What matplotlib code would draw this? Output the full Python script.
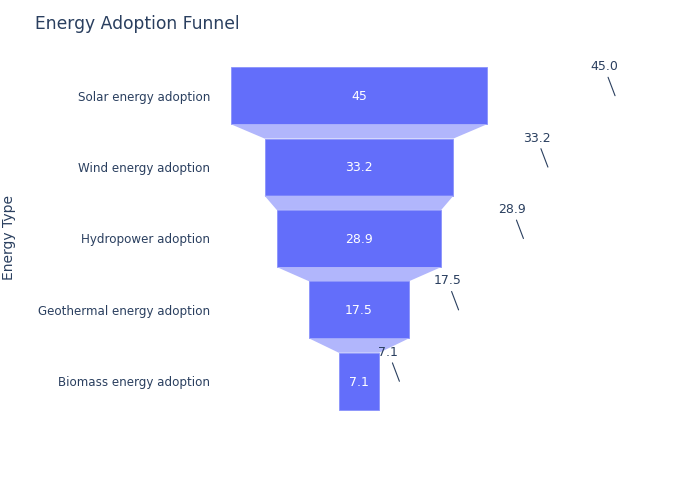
import matplotlib.pyplot as plt
from matplotlib.patches import Polygon

stages = ['Solar energy adoption', 'Wind energy adoption', 'Hydropower adoption',
          'Geothermal energy adoption', 'Biomass energy adoption']
values = [45, 33.2, 28.9, 17.5, 7.1]
bar_labels = ['45', '33.2', '28.9', '17.5', '7.1']

bar_color = '#636efa'
conn_color = '#b1b6fc'
text_color = '#2a3f5f'

fig = plt.figure(figsize=(7, 5), dpi=100)
# plot area in pixels: x 220..620, y 60..417
ax = fig.add_axes([220 / 700, 1 - 417 / 500, 400 / 700, 357 / 500])
ax.set_xlim(-24.43, 45.87)
ax.set_ylim(4.5, -0.5)

h = 0.8
for i, v in enumerate(values):
    ax.barh(i, v, left=-v / 2, height=h, color=bar_color, edgecolor='#8a93fb', linewidth=0.6)
    ax.text(0, i + 0.01, bar_labels[i], color='white', ha='center', va='center', fontsize=9)
    if i < len(values) - 1:
        nv = values[i + 1]
        pts = [(-v / 2, i + h / 2), (v / 2, i + h / 2), (nv / 2, i + 1 - h / 2), (-nv / 2, i + 1 - h / 2)]
        ax.add_patch(Polygon(pts, closed=True, facecolor=conn_color, edgecolor='none'))
    ax.annotate(f'{v:.1f}', xy=(v, i), xytext=(-11, 29), textcoords='offset pixels',
                ha='center', va='center', fontsize=9, color=text_color,
                arrowprops=dict(arrowstyle='-', color=text_color, lw=0.8, shrinkA=1, shrinkB=0),
                annotation_clip=False)

ax.set_yticks(range(len(stages)))
ax.set_yticklabels(stages, fontsize=8.6, color=text_color)
ax.tick_params(axis='y', length=0, pad=7)
ax.set_xticks([])
for s in ax.spines.values():
    s.set_visible(False)

fig.text(9 / 700, 1 - 238 / 500, 'Energy Type', rotation=90, ha='center', va='center',
         fontsize=10, color=text_color)
fig.text(35 / 700, 1 - 24 / 500, 'Energy Adoption Funnel', ha='left', va='center',
         fontsize=12.3, color=text_color)

fig.savefig('out.png', dpi=100)
